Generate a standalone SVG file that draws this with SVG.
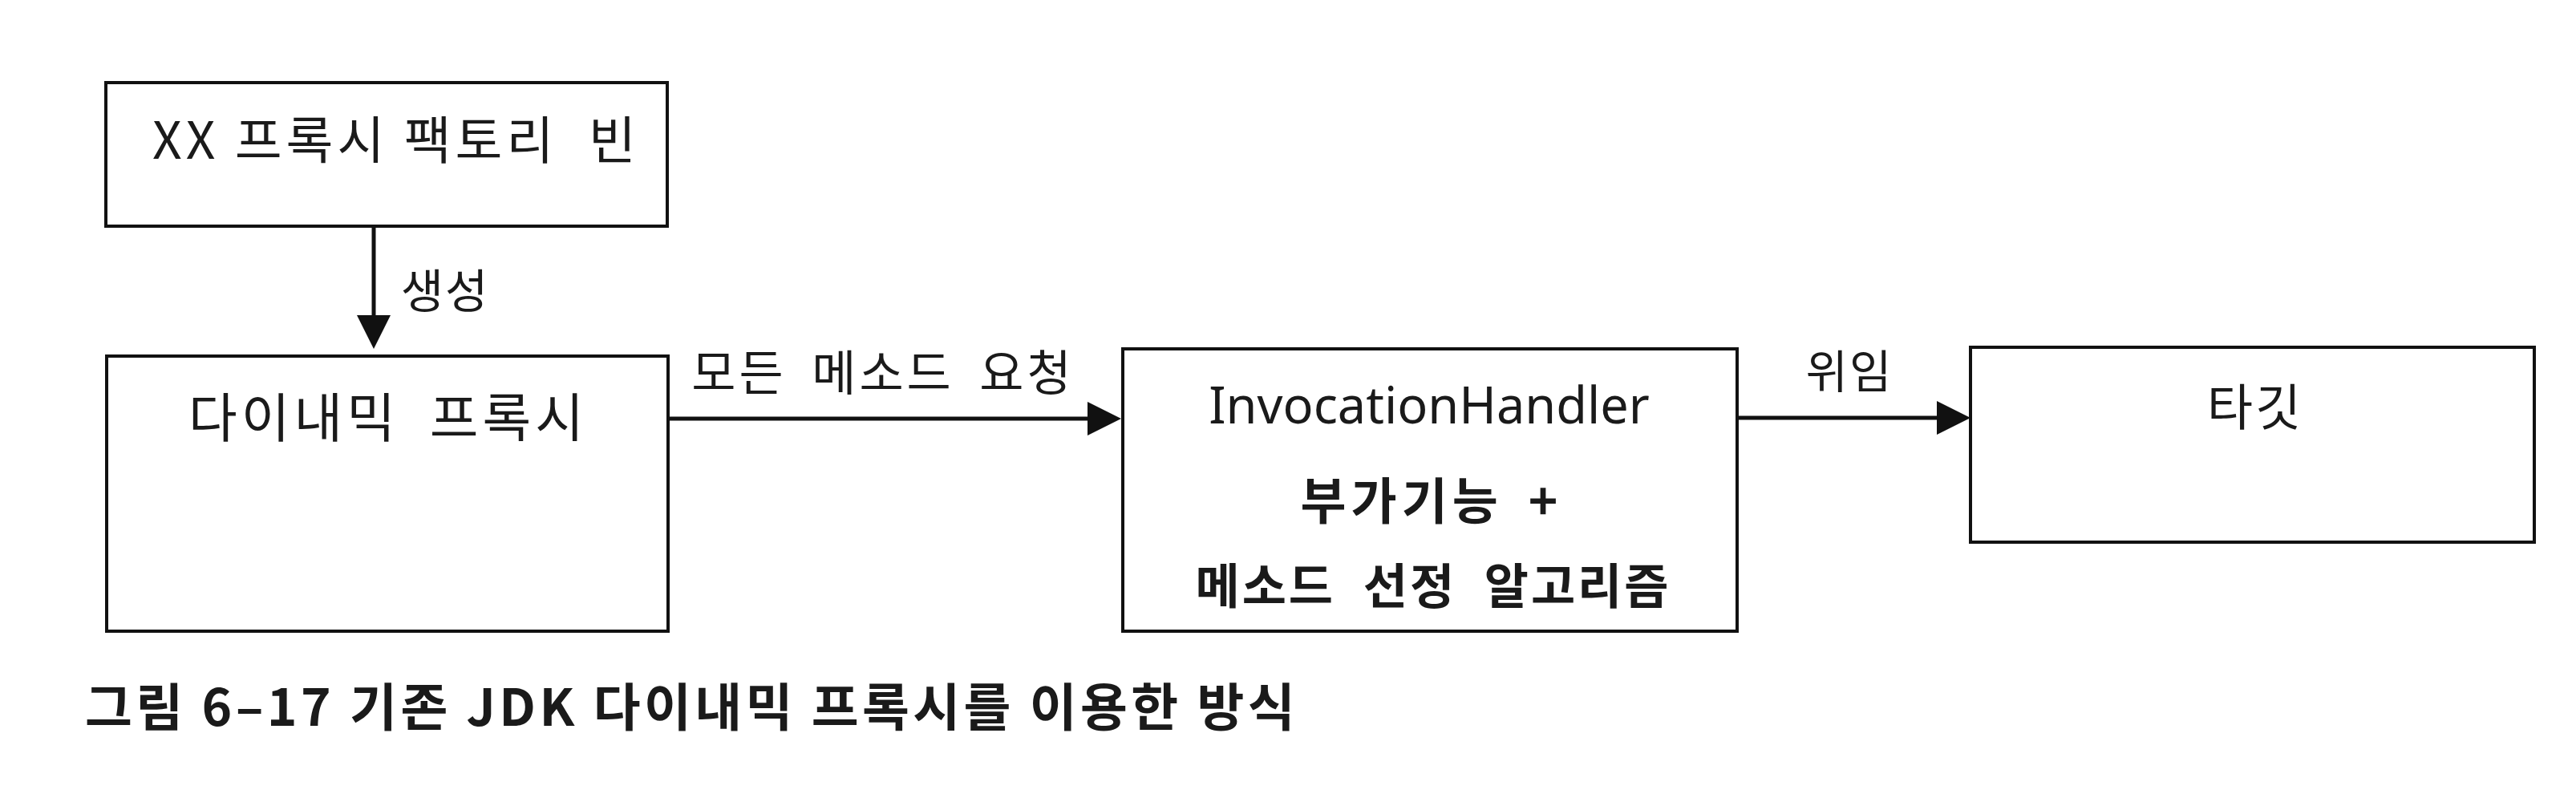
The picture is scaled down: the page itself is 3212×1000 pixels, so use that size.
<svg xmlns="http://www.w3.org/2000/svg" width="3212" height="1000" viewBox="0 0 3212 1000">
<defs>
<style>
.box{fill:#fff;stroke:#111;stroke-width:4}
.con{fill:none;stroke:#111;stroke-width:5}
.t{font-family:"Noto Sans CJK KR","Noto Sans",sans-serif;fill:#1a1a1a;text-anchor:middle}
.lat{font-family:"Noto Sans","Noto Sans CJK KR",sans-serif;fill:#1a1a1a;text-anchor:middle}
.b{font-weight:bold}
</style>
<marker id="arr" markerUnits="userSpaceOnUse" markerWidth="42" markerHeight="42" viewBox="0 0 42 42" refX="4" refY="21" orient="auto">
<path d="M0,0 L42,21 L0,42 z" fill="#111"/>
</marker>
</defs>
<rect width="3212" height="1000" fill="#fff"/>
<g id="connectors">
<line class="con" x1="466" y1="282" x2="466" y2="397" marker-end="url(#arr)"/>
<line class="con" x1="833" y1="522" x2="1360" y2="522" marker-end="url(#arr)"/>
<line class="con" x1="2166" y1="521" x2="2419" y2="521" marker-end="url(#arr)"/>
<text class="t" x="555" y="384" font-size="58" letter-spacing="2">생성</text>
<text class="t" x="1101" y="487" font-size="60" letter-spacing="4" word-spacing="14">모든 메소드 요청</text>
<text class="t" x="2306" y="484" font-size="57" letter-spacing="2">위임</text>
</g>
<g id="factory">
<rect class="box" x="132" y="103" width="700" height="179"/>
<text class="t" x="494" y="198" font-size="64" letter-spacing="5" xml:space="preserve">XX 프록시 팩토리  빈</text>
</g>
<g id="dynamic-proxy">
<rect class="box" x="133" y="444" width="700" height="343"/>
<text class="t" x="484" y="545" font-size="66" letter-spacing="5" word-spacing="18">다이내믹 프록시</text>
</g>
<g id="invocation-handler">
<rect class="box" x="1400" y="435" width="766" height="352"/>
<text class="lat" x="1782" y="528" font-size="63">InvocationHandler</text>
<text class="t b" x="1785" y="648" font-size="62" letter-spacing="6" word-spacing="12">부가기능 +</text>
<text class="t b" x="1787" y="753" font-size="60" letter-spacing="3" word-spacing="18">메소드 선정 알고리즘</text>
</g>
<g id="target">
<rect class="box" x="2457" y="433" width="703" height="243"/>
<text class="t" x="2812" y="531" font-size="62" letter-spacing="3">타깃</text>
</g>
<text class="t b" x="106" y="905" font-size="64" letter-spacing="4.4" style="text-anchor:start">그림 6–17 기존 JDK 다이내믹 프록시를 이용한 방식</text>
</svg>
